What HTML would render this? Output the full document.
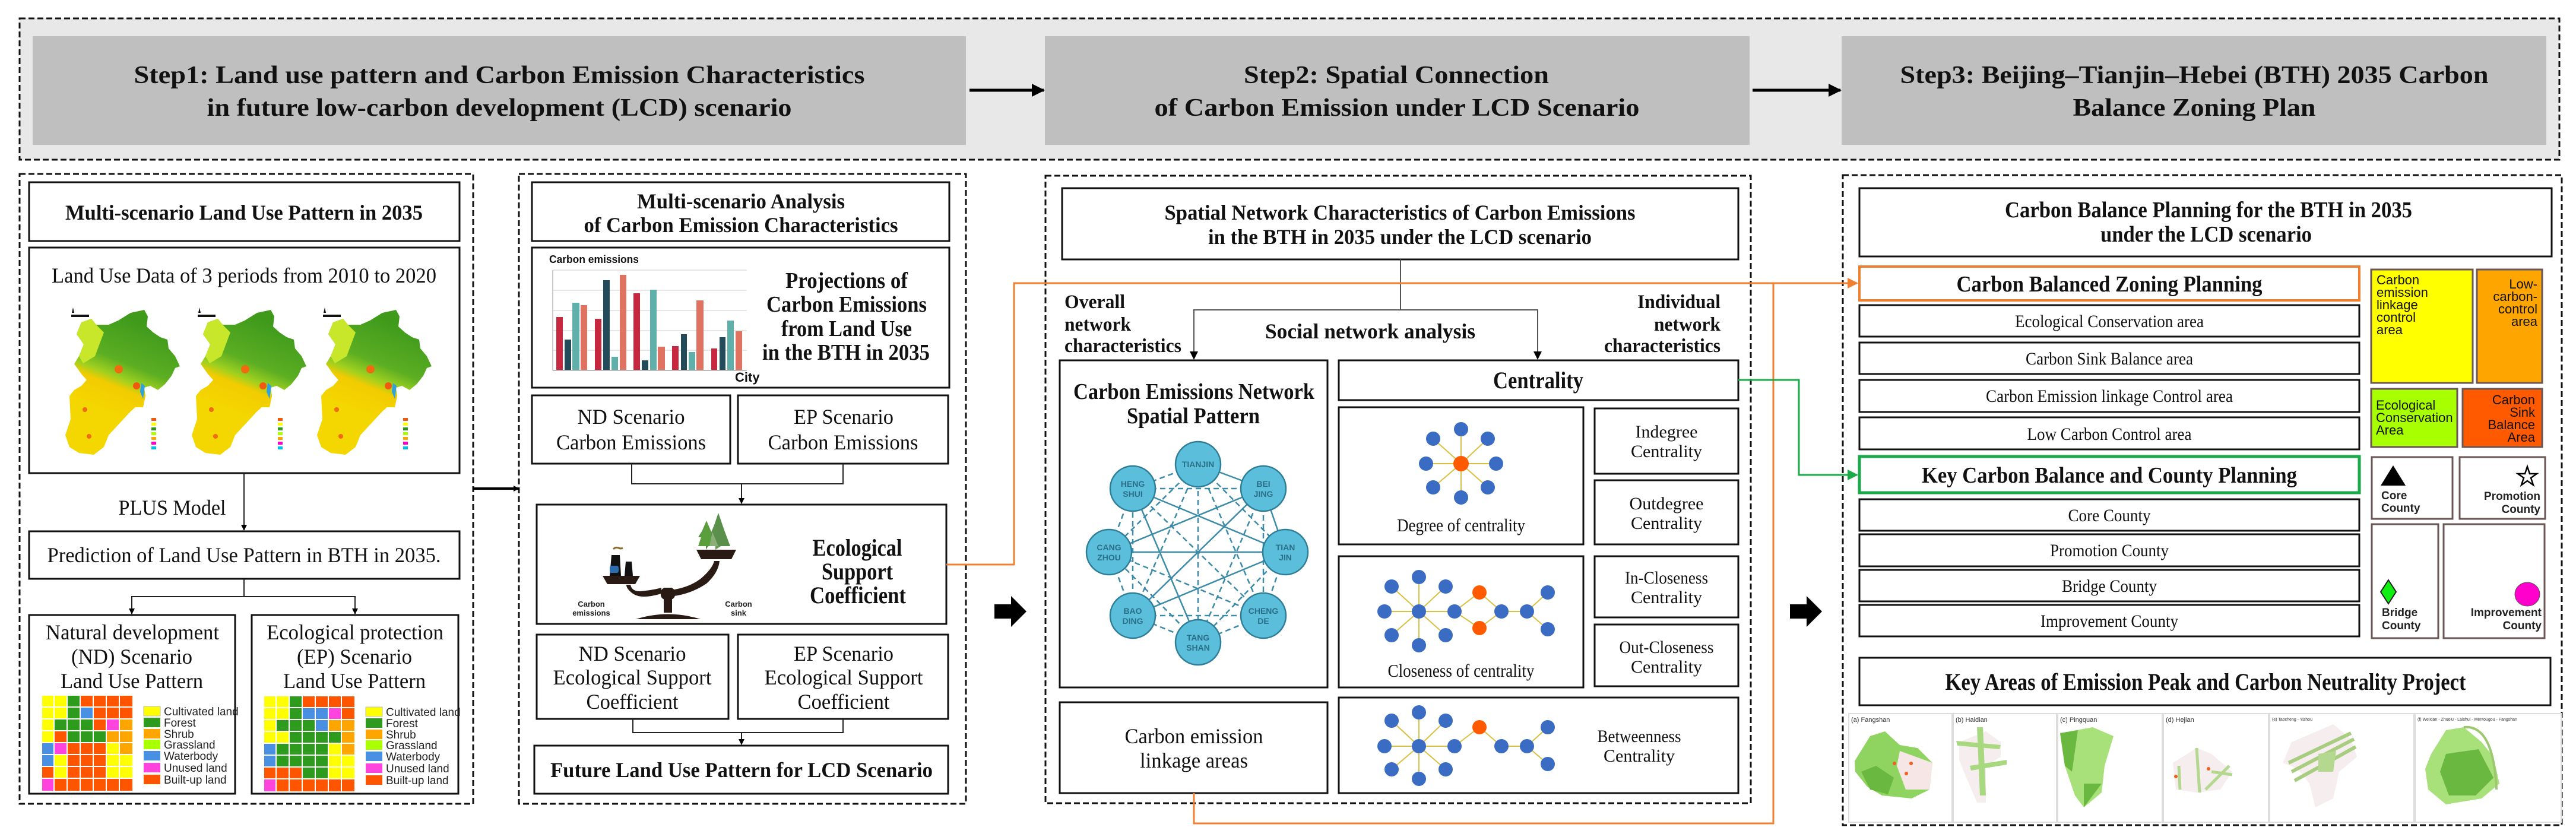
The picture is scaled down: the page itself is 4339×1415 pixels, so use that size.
<!DOCTYPE html>
<html><head><meta charset="utf-8">
<style>
html,body{margin:0;padding:0;background:#fff;}
svg{display:block;}
.t{font-family:"Liberation Serif",serif;fill:#111;}
.b{font-weight:bold;}
.s{font-family:"Liberation Sans",sans-serif;}
</style></head><body>
<svg width="4339" height="1415" viewBox="0 0 4339 1415" xmlns="http://www.w3.org/2000/svg">
<defs>
<marker id="ah" markerWidth="10" markerHeight="10" refX="9" refY="5" orient="auto" markerUnits="userSpaceOnUse"><path d="M0,0 L10,5 L0,10 Z" fill="#000"/></marker>
<marker id="ahb" markerWidth="22" markerHeight="22" refX="20" refY="11" orient="auto" markerUnits="userSpaceOnUse"><path d="M0,0 L22,11 L0,22 Z" fill="#000"/></marker>
<marker id="aho" markerWidth="18" markerHeight="18" refX="16" refY="9" orient="auto" markerUnits="userSpaceOnUse"><path d="M0,0 L18,9 L0,18 Z" fill="#f08030"/></marker>
<marker id="ahg" markerWidth="18" markerHeight="18" refX="16" refY="9" orient="auto" markerUnits="userSpaceOnUse"><path d="M0,0 L18,9 L0,18 Z" fill="#1aaa4a"/></marker>
<linearGradient id="mg" gradientUnits="userSpaceOnUse" x1="230" y1="540" x2="170" y2="690">
<stop offset="0" stop-color="#3f9a1c"/><stop offset="0.45" stop-color="#5cae22"/><stop offset="0.62" stop-color="#9fd020"/><stop offset="0.72" stop-color="#f2cc00"/><stop offset="1" stop-color="#f4d600"/></linearGradient>
<g id="map">
<path d="M243,522 L249,533 L247,550 L258,560 L270,568 L282,572 L284,587 L295,600 L303,617 L295,620 L289,633 L278,647 L266,657 L253,650 L243,653 L245,667 L241,686 L228,686 L220,693 L208,706 L195,720 L183,733 L175,753 L158,766 L133,763 L117,753 L110,733 L119,706 L117,667 L125,657 L137,650 L146,640 L137,630 L125,613 L133,600 L141,580 L129,563 L137,543 L154,537 L162,547 L183,547 L199,540 L220,527 Z" fill="url(#mg)"/>
<path d="M137,543 L154,537 L162,547 L175,560 L160,600 L140,612 L133,600 L141,580 L129,563 Z" fill="#c8e62a"/>
<circle cx="200" cy="622" r="7" fill="#f06a10"/><circle cx="230" cy="650" r="6" fill="#f05a10"/><circle cx="143" cy="690" r="4" fill="#f06a10"/><circle cx="150" cy="735" r="4" fill="#f06a10"/>
<path d="M238,645 L244,650 L241,672 L236,660 Z" fill="#30a0e0"/>
<rect x="255" y="704" width="8" height="5" fill="#f05a10"/><rect x="255" y="712" width="8" height="5" fill="#ffff00"/><rect x="255" y="720" width="8" height="5" fill="#2e9a1e"/><rect x="255" y="728" width="8" height="5" fill="#aaff00"/><rect x="255" y="736" width="8" height="5" fill="#ffa500"/><rect x="255" y="744" width="8" height="5" fill="#ff00cc"/><rect x="255" y="752" width="8" height="5" fill="#00c0f0"/>
<rect x="120" y="530" width="30" height="4" fill="#111"/><path d="M123,518 L125,527 L121,527 Z" fill="#111"/>
</g>
</defs>

<!-- TOP STEP BAR -->
<rect x="33" y="31" width="4278" height="238" fill="#e8e8e8" stroke="#111" stroke-width="3" stroke-dasharray="10,5"/>
<rect x="55" y="61" width="1572" height="183" fill="#bfbfbf"/>
<rect x="1760" y="61" width="1187" height="183" fill="#bfbfbf"/>
<rect x="3102" y="61" width="1187" height="183" fill="#bfbfbf"/>
<text class="t b" x="841" y="140" font-size="42" text-anchor="middle" textLength="1231" lengthAdjust="spacingAndGlyphs">Step1: Land use pattern and Carbon Emission Characteristics</text>
<text class="t b" x="841" y="195" font-size="42" text-anchor="middle" textLength="985" lengthAdjust="spacingAndGlyphs">in future low-carbon development (LCD) scenario</text>
<text class="t b" x="2352" y="140" font-size="42" text-anchor="middle" textLength="514" lengthAdjust="spacingAndGlyphs">Step2: Spatial Connection</text>
<text class="t b" x="2353" y="195" font-size="42" text-anchor="middle" textLength="817" lengthAdjust="spacingAndGlyphs">of Carbon Emission under LCD Scenario</text>
<text class="t b" x="3696" y="140" font-size="42" text-anchor="middle" textLength="991" lengthAdjust="spacingAndGlyphs">Step3: Beijing–Tianjin–Hebei (BTH) 2035 Carbon</text>
<text class="t b" x="3696" y="195" font-size="42" text-anchor="middle" textLength="409" lengthAdjust="spacingAndGlyphs">Balance Zoning Plan</text>
<line x1="1633" y1="152" x2="1758" y2="152" stroke="#000" stroke-width="5" marker-end="url(#ahb)"/>
<line x1="2952" y1="152" x2="3100" y2="152" stroke="#000" stroke-width="5" marker-end="url(#ahb)"/>

<!-- PANELS -->
<g fill="none" stroke="#111" stroke-width="3" stroke-dasharray="10,5">
<rect x="33" y="293" width="764" height="1061"/>
<rect x="874" y="293" width="753" height="1061"/>
<rect x="1761" y="296" width="1188" height="1057"/>
<rect x="3104" y="295" width="1211" height="1095"/>
</g>

<!-- PANEL 1 -->
<g fill="#fff" stroke="#111" stroke-width="3">
<rect x="49" y="307" width="725" height="99"/>
<rect x="49" y="417" width="725" height="380"/>
<rect x="49" y="895" width="725" height="80"/>
<rect x="49" y="1036" width="347" height="301"/>
<rect x="424" y="1036" width="348" height="301"/>
</g>
<text class="t b" x="411" y="370" font-size="36" text-anchor="middle" textLength="602" lengthAdjust="spacingAndGlyphs">Multi-scenario Land Use Pattern in 2035</text>
<text class="t" x="411" y="476" font-size="36" text-anchor="middle" textLength="648" lengthAdjust="spacingAndGlyphs">Land Use Data of 3 periods from 2010 to 2020</text>
<use href="#map"/>
<use href="#map" transform="translate(213,0)"/>
<use href="#map" transform="translate(424,0)"/>
<line x1="411" y1="797" x2="411" y2="893" stroke="#222" stroke-width="2" marker-end="url(#ah)"/>
<text class="t" x="290" y="867" font-size="36" text-anchor="middle" textLength="181" lengthAdjust="spacingAndGlyphs">PLUS Model</text>
<text class="t" x="411" y="947" font-size="36" text-anchor="middle" textLength="663" lengthAdjust="spacingAndGlyphs">Prediction of Land Use Pattern in BTH in 2035.</text>
<polyline points="411,975 411,1005 222,1005 222,1034" fill="none" stroke="#222" stroke-width="2" marker-end="url(#ah)"/>
<polyline points="411,1005 598,1005 598,1034" fill="none" stroke="#222" stroke-width="2" marker-end="url(#ah)"/>
<text class="t" x="223" y="1077" font-size="36" text-anchor="middle" textLength="292" lengthAdjust="spacingAndGlyphs">Natural development</text>
<text class="t" x="222" y="1118" font-size="36" text-anchor="middle" textLength="204" lengthAdjust="spacingAndGlyphs">(ND) Scenario</text>
<text class="t" x="222" y="1159" font-size="36" text-anchor="middle" textLength="240" lengthAdjust="spacingAndGlyphs">Land Use Pattern</text>
<text class="t" x="598" y="1077" font-size="36" text-anchor="middle" textLength="298" lengthAdjust="spacingAndGlyphs">Ecological protection</text>
<text class="t" x="597" y="1118" font-size="36" text-anchor="middle" textLength="194" lengthAdjust="spacingAndGlyphs">(EP) Scenario</text>
<text class="t" x="597" y="1159" font-size="36" text-anchor="middle" textLength="240" lengthAdjust="spacingAndGlyphs">Land Use Pattern</text>

<!-- ND grid -->
<g id="ndgrid">
<!-- row1 Y Y G R R R R -->
<rect x="71" y="1172" width="19" height="18" fill="#ffff00"/><rect x="92" y="1172" width="20" height="18" fill="#ffff00"/><rect x="114" y="1172" width="20" height="18" fill="#2e9a1e"/><rect x="136" y="1172" width="20" height="18" fill="#ff5500"/><rect x="158" y="1172" width="20" height="18" fill="#ff5500"/><rect x="180" y="1172" width="20" height="18" fill="#ff5500"/><rect x="202" y="1172" width="21" height="18" fill="#ff5500"/>
<rect x="71" y="1192" width="19" height="18" fill="#ffff00"/><rect x="92" y="1192" width="20" height="18" fill="#ffff00"/><rect x="114" y="1192" width="20" height="18" fill="#2e9a1e"/><rect x="136" y="1192" width="20" height="18" fill="#4a90e2"/><rect x="158" y="1192" width="20" height="18" fill="#ff5500"/><rect x="180" y="1192" width="20" height="18" fill="#ff5500"/><rect x="202" y="1192" width="21" height="18" fill="#ff5500"/>
<rect x="71" y="1212" width="19" height="18" fill="#ffff00"/><rect x="92" y="1212" width="20" height="18" fill="#2e9a1e"/><rect x="114" y="1212" width="20" height="18" fill="#2e9a1e"/><rect x="136" y="1212" width="20" height="18" fill="#2e9a1e"/><rect x="158" y="1212" width="20" height="18" fill="#ff5500"/><rect x="180" y="1212" width="20" height="18" fill="#ff44dd"/><rect x="202" y="1212" width="21" height="18" fill="#ffa500"/>
<rect x="71" y="1232" width="19" height="18" fill="#ffff00"/><rect x="92" y="1232" width="20" height="18" fill="#ff5500"/><rect x="114" y="1232" width="20" height="18" fill="#2e9a1e"/><rect x="136" y="1232" width="20" height="18" fill="#2e9a1e"/><rect x="158" y="1232" width="20" height="18" fill="#2e9a1e"/><rect x="180" y="1232" width="20" height="18" fill="#ffa500"/><rect x="202" y="1232" width="21" height="18" fill="#ffa500"/>
<rect x="71" y="1252" width="19" height="18" fill="#4a90e2"/><rect x="92" y="1252" width="20" height="18" fill="#ff44dd"/><rect x="114" y="1252" width="20" height="18" fill="#ff5500"/><rect x="136" y="1252" width="20" height="18" fill="#ff5500"/><rect x="158" y="1252" width="20" height="18" fill="#ff5500"/><rect x="180" y="1252" width="20" height="18" fill="#ffff00"/><rect x="202" y="1252" width="21" height="18" fill="#ffa500"/>
<rect x="71" y="1272" width="19" height="18" fill="#4a90e2"/><rect x="92" y="1272" width="20" height="18" fill="#ffff00"/><rect x="114" y="1272" width="20" height="18" fill="#ff5500"/><rect x="136" y="1272" width="20" height="18" fill="#ff5500"/><rect x="158" y="1272" width="20" height="18" fill="#ff5500"/><rect x="180" y="1272" width="20" height="18" fill="#ffff00"/><rect x="202" y="1272" width="21" height="18" fill="#ffff00"/>
<rect x="71" y="1292" width="19" height="18" fill="#ff5500"/><rect x="92" y="1292" width="20" height="18" fill="#ffff00"/><rect x="114" y="1292" width="20" height="18" fill="#ff5500"/><rect x="136" y="1292" width="20" height="18" fill="#ff5500"/><rect x="158" y="1292" width="20" height="18" fill="#ff5500"/><rect x="180" y="1292" width="20" height="18" fill="#ffff00"/><rect x="202" y="1292" width="21" height="18" fill="#ffff00"/>
<rect x="71" y="1312" width="19" height="20" fill="#ff44dd"/><rect x="92" y="1312" width="20" height="20" fill="#ff5500"/><rect x="114" y="1312" width="20" height="20" fill="#ff5500"/><rect x="136" y="1312" width="20" height="20" fill="#ff5500"/><rect x="158" y="1312" width="20" height="20" fill="#ff5500"/><rect x="180" y="1312" width="20" height="20" fill="#ff5500"/><rect x="202" y="1312" width="21" height="20" fill="#ff5500"/>
</g>
<!-- EP grid -->
<g transform="translate(374,1)">
<rect x="71" y="1172" width="19" height="18" fill="#ffff00"/><rect x="92" y="1172" width="20" height="18" fill="#ffff00"/><rect x="114" y="1172" width="20" height="18" fill="#2e9a1e"/><rect x="136" y="1172" width="20" height="18" fill="#ff5500"/><rect x="158" y="1172" width="20" height="18" fill="#ff5500"/><rect x="180" y="1172" width="20" height="18" fill="#ff5500"/><rect x="202" y="1172" width="21" height="18" fill="#ff5500"/>
<rect x="71" y="1192" width="19" height="18" fill="#ffff00"/><rect x="92" y="1192" width="20" height="18" fill="#ffff00"/><rect x="114" y="1192" width="20" height="18" fill="#2e9a1e"/><rect x="136" y="1192" width="20" height="18" fill="#4a90e2"/><rect x="158" y="1192" width="20" height="18" fill="#4a90e2"/><rect x="180" y="1192" width="20" height="18" fill="#ff44dd"/><rect x="202" y="1192" width="21" height="18" fill="#ff5500"/>
<rect x="71" y="1212" width="19" height="18" fill="#ffff00"/><rect x="92" y="1212" width="20" height="18" fill="#2e9a1e"/><rect x="114" y="1212" width="20" height="18" fill="#2e9a1e"/><rect x="136" y="1212" width="20" height="18" fill="#2e9a1e"/><rect x="158" y="1212" width="20" height="18" fill="#4a90e2"/><rect x="180" y="1212" width="20" height="18" fill="#ffa500"/><rect x="202" y="1212" width="21" height="18" fill="#ffa500"/>
<rect x="71" y="1232" width="19" height="18" fill="#ffff00"/><rect x="92" y="1232" width="20" height="18" fill="#ffff00"/><rect x="114" y="1232" width="20" height="18" fill="#2e9a1e"/><rect x="136" y="1232" width="20" height="18" fill="#2e9a1e"/><rect x="158" y="1232" width="20" height="18" fill="#2e9a1e"/><rect x="180" y="1232" width="20" height="18" fill="#2e9a1e"/><rect x="202" y="1232" width="21" height="18" fill="#ffa500"/>
<rect x="71" y="1252" width="19" height="18" fill="#4a90e2"/><rect x="92" y="1252" width="20" height="18" fill="#2e9a1e"/><rect x="114" y="1252" width="20" height="18" fill="#2e9a1e"/><rect x="136" y="1252" width="20" height="18" fill="#2e9a1e"/><rect x="158" y="1252" width="20" height="18" fill="#2e9a1e"/><rect x="180" y="1252" width="20" height="18" fill="#ffff00"/><rect x="202" y="1252" width="21" height="18" fill="#ffa500"/>
<rect x="71" y="1272" width="19" height="18" fill="#4a90e2"/><rect x="92" y="1272" width="20" height="18" fill="#2e9a1e"/><rect x="114" y="1272" width="20" height="18" fill="#2e9a1e"/><rect x="136" y="1272" width="20" height="18" fill="#2e9a1e"/><rect x="158" y="1272" width="20" height="18" fill="#2e9a1e"/><rect x="180" y="1272" width="20" height="18" fill="#ffff00"/><rect x="202" y="1272" width="21" height="18" fill="#ffff00"/>
<rect x="71" y="1292" width="19" height="18" fill="#ff5500"/><rect x="92" y="1292" width="20" height="18" fill="#ff5500"/><rect x="114" y="1292" width="20" height="18" fill="#ff5500"/><rect x="136" y="1292" width="20" height="18" fill="#2e9a1e"/><rect x="158" y="1292" width="20" height="18" fill="#2e9a1e"/><rect x="180" y="1292" width="20" height="18" fill="#ffff00"/><rect x="202" y="1292" width="21" height="18" fill="#ffff00"/>
<rect x="71" y="1312" width="19" height="20" fill="#ff44dd"/><rect x="92" y="1312" width="20" height="20" fill="#ff5500"/><rect x="114" y="1312" width="20" height="20" fill="#ff5500"/><rect x="136" y="1312" width="20" height="20" fill="#ff5500"/><rect x="158" y="1312" width="20" height="20" fill="#ff5500"/><rect x="180" y="1312" width="20" height="20" fill="#ff5500"/><rect x="202" y="1312" width="21" height="20" fill="#ff5500"/>
</g>
<!-- legends -->
<g id="leg1" font-family="Liberation Sans, sans-serif" font-size="19" fill="#222">
<rect x="242" y="1190" width="28" height="16" fill="#ffff00" stroke="#bbb"/><text x="276" y="1205">Cultivated land</text>
<rect x="242" y="1209" width="28" height="16" fill="#2e9a1e"/><text x="276" y="1224">Forest</text>
<rect x="242" y="1228" width="28" height="16" fill="#ffa500"/><text x="276" y="1243">Shrub</text>
<rect x="242" y="1246" width="28" height="16" fill="#aaff00"/><text x="276" y="1261">Grassland</text>
<rect x="242" y="1265" width="28" height="16" fill="#4a90e2"/><text x="276" y="1280">Waterbody</text>
<rect x="242" y="1285" width="28" height="16" fill="#ff44dd"/><text x="276" y="1300">Unused land</text>
<rect x="242" y="1305" width="28" height="16" fill="#ff5500"/><text x="276" y="1320">Built-up land</text>
</g>
<use href="#leg1" transform="translate(374,1)"/>

<!-- arrow panel1->panel2 -->
<line x1="797" y1="823" x2="874" y2="823" stroke="#000" stroke-width="4" marker-end="url(#ah)"/>

<!-- PANEL 2 -->
<g fill="#fff" stroke="#111" stroke-width="3">
<rect x="896" y="307" width="703" height="99"/>
<rect x="896" y="417" width="703" height="236"/>
<rect x="896" y="666" width="334" height="115"/>
<rect x="1243" y="666" width="354" height="115"/>
<rect x="904" y="850" width="690" height="201"/>
<rect x="904" y="1069" width="323" height="142"/>
<rect x="1243" y="1069" width="354" height="142"/>
<rect x="900" y="1256" width="697" height="81"/>
</g>
<text class="t b" x="1248" y="351" font-size="36" text-anchor="middle" textLength="350" lengthAdjust="spacingAndGlyphs">Multi-scenario Analysis</text>
<text class="t b" x="1248" y="391" font-size="36" text-anchor="middle" textLength="529" lengthAdjust="spacingAndGlyphs">of Carbon Emission Characteristics</text>
<!-- chart -->
<g stroke="#e6e6e6" stroke-width="2"><line x1="931" y1="455" x2="1258" y2="455"/><line x1="931" y1="489" x2="1258" y2="489"/><line x1="931" y1="523" x2="1258" y2="523"/><line x1="931" y1="557" x2="1258" y2="557"/><line x1="931" y1="590" x2="1258" y2="590"/></g>
<line x1="931" y1="455" x2="931" y2="624" stroke="#ccc" stroke-width="2"/>
<line x1="931" y1="624" x2="1258" y2="624" stroke="#bbb" stroke-width="2"/>
<g>
<rect x="937" y="534" width="11" height="89" fill="#c8283f"/><rect x="951" y="572" width="11" height="51" fill="#234b5a"/><rect x="964" y="510" width="12" height="113" fill="#5fb0aa"/><rect x="978" y="514" width="11" height="109" fill="#e07262"/>
<rect x="1002" y="537" width="11" height="86" fill="#c8283f"/><rect x="1016" y="472" width="11" height="151" fill="#234b5a"/><rect x="1030" y="601" width="11" height="22" fill="#5fb0aa"/><rect x="1044" y="463" width="11" height="160" fill="#e07262"/>
<rect x="1067" y="494" width="11" height="129" fill="#c8283f"/><rect x="1081" y="607" width="11" height="16" fill="#234b5a"/><rect x="1095" y="488" width="11" height="135" fill="#5fb0aa"/><rect x="1108" y="584" width="12" height="39" fill="#e07262"/>
<rect x="1132" y="583" width="11" height="40" fill="#c8283f"/><rect x="1147" y="563" width="10" height="60" fill="#234b5a"/><rect x="1160" y="593" width="11" height="30" fill="#5fb0aa"/><rect x="1173" y="506" width="12" height="117" fill="#e07262"/>
<rect x="1198" y="587" width="10" height="36" fill="#c8283f"/><rect x="1212" y="568" width="10" height="55" fill="#234b5a"/><rect x="1225" y="540" width="11" height="83" fill="#5fb0aa"/><rect x="1239" y="558" width="11" height="65" fill="#e07262"/>
</g>
<text class="s b" x="925" y="443" font-size="18" font-weight="bold" fill="#111" textLength="151" lengthAdjust="spacingAndGlyphs">Carbon emissions</text>
<text class="s b" x="1238" y="643" font-size="22" font-weight="bold" fill="#111">City</text>
<text class="t b" x="1426" y="485" font-size="38" text-anchor="middle" textLength="206" lengthAdjust="spacingAndGlyphs">Projections of</text>
<text class="t b" x="1426" y="525" font-size="38" text-anchor="middle" textLength="270" lengthAdjust="spacingAndGlyphs">Carbon Emissions</text>
<text class="t b" x="1426" y="566" font-size="38" text-anchor="middle" textLength="220" lengthAdjust="spacingAndGlyphs">from Land Use</text>
<text class="t b" x="1425" y="606" font-size="38" text-anchor="middle" textLength="282" lengthAdjust="spacingAndGlyphs">in the BTH in 2035</text>
<text class="t" x="1063" y="714" font-size="36" text-anchor="middle" textLength="181" lengthAdjust="spacingAndGlyphs">ND Scenario</text>
<text class="t" x="1063" y="757" font-size="36" text-anchor="middle" textLength="252" lengthAdjust="spacingAndGlyphs">Carbon Emissions</text>
<text class="t" x="1421" y="714" font-size="36" text-anchor="middle" textLength="168" lengthAdjust="spacingAndGlyphs">EP Scenario</text>
<text class="t" x="1420" y="757" font-size="36" text-anchor="middle" textLength="253" lengthAdjust="spacingAndGlyphs">Carbon Emissions</text>
<polyline points="1064,781 1064,815 1420,815 1420,781" fill="none" stroke="#222" stroke-width="2"/>
<line x1="1249" y1="815" x2="1249" y2="848" stroke="#222" stroke-width="2" marker-end="url(#ah)"/>
<!-- balance icon -->
<g fill="#2a1a14">
<path d="M1071,1043 Q1125,1026 1180,1043 Z"/>
<rect x="1118" y="990" width="14" height="42"/>
<rect x="1113" y="990" width="24" height="20" rx="8"/>
<path d="M1114,1000 Q1080,1010 1066,1000 Q1055,992 1055,985 L1062,985 Q1064,996 1078,996 Q1100,994 1114,990 Z"/>
<path d="M1130,994 Q1160,990 1180,975 Q1200,958 1203,945 L1212,945 Q1210,965 1190,983 Q1165,1000 1135,1004 Z"/>
<path d="M1015,970 L1078,970 L1070,984 L1023,984 Z"/>
<path d="M1173,926 L1240,926 L1232,942 L1181,942 Z"/>
<path d="M1027,970 L1030,935 L1044,935 L1046,970 Z" fill="#111"/>
<path d="M1052,970 L1054,946 L1064,946 L1066,970 Z" fill="#111"/>
</g>
<rect x="1027" y="953" width="15" height="12" rx="3" fill="#2b6cb0"/>
<path d="M1033,925 q4,-4 9,-2 q3,2 7,0" stroke="#8a6a2a" stroke-width="3" fill="none"/>
<g>
<path d="M1189,926 L1189,884 L1176,905 L1202,905 Z" fill="#4e8a3a"/>
<path d="M1178,905 L1190,877 L1202,905 Z" fill="#5a9a44"/>
<path d="M1205,926 L1205,880 L1190,915 L1222,915 Z" fill="#6a9a5a"/>
<path d="M1196,905 L1210,864 L1224,905 Z" fill="#5a8f4c"/>
<path d="M1200,920 L1212,872 L1230,920 Z" fill="#5a8f4c"/>
<path d="M1176,920 L1190,878 L1203,920 Z" fill="#5b9e3c"/>
<path d="M1195,920 L1200,896 L1210,920 Z" fill="#8ab078"/>
</g>
<text class="s" x="996" y="1022" font-size="13" font-weight="bold" text-anchor="middle" fill="#222">Carbon</text>
<text class="s" x="996" y="1037" font-size="13" font-weight="bold" text-anchor="middle" fill="#222">emissions</text>
<text class="s" x="1244" y="1022" font-size="13" font-weight="bold" text-anchor="middle" fill="#222">Carbon</text>
<text class="s" x="1244" y="1037" font-size="13" font-weight="bold" text-anchor="middle" fill="#222">sink</text>
<text class="t b" x="1444" y="936" font-size="40" text-anchor="middle" textLength="151" lengthAdjust="spacingAndGlyphs">Ecological</text>
<text class="t b" x="1444" y="976" font-size="40" text-anchor="middle" textLength="120" lengthAdjust="spacingAndGlyphs">Support</text>
<text class="t b" x="1445" y="1016" font-size="40" text-anchor="middle" textLength="162" lengthAdjust="spacingAndGlyphs">Coefficient</text>
<text class="t" x="1065" y="1113" font-size="36" text-anchor="middle" textLength="181" lengthAdjust="spacingAndGlyphs">ND Scenario</text>
<text class="t" x="1065" y="1153" font-size="36" text-anchor="middle" textLength="267" lengthAdjust="spacingAndGlyphs">Ecological Support</text>
<text class="t" x="1065" y="1194" font-size="36" text-anchor="middle" textLength="155" lengthAdjust="spacingAndGlyphs">Coefficient</text>
<text class="t" x="1421" y="1113" font-size="36" text-anchor="middle" textLength="168" lengthAdjust="spacingAndGlyphs">EP Scenario</text>
<text class="t" x="1421" y="1153" font-size="36" text-anchor="middle" textLength="267" lengthAdjust="spacingAndGlyphs">Ecological Support</text>
<text class="t" x="1421" y="1194" font-size="36" text-anchor="middle" textLength="155" lengthAdjust="spacingAndGlyphs">Coefficient</text>
<polyline points="1066,1211 1066,1234 1420,1234 1420,1211" fill="none" stroke="#222" stroke-width="2"/>
<line x1="1249" y1="1234" x2="1249" y2="1254" stroke="#222" stroke-width="2" marker-end="url(#ah)"/>
<text class="t b" x="1249" y="1309" font-size="36" text-anchor="middle" textLength="644" lengthAdjust="spacingAndGlyphs">Future Land Use Pattern for LCD Scenario</text>

<!-- block arrows -->
<path d="M1675,1018 L1703,1018 L1703,1004 L1729,1030 L1703,1056 L1703,1042 L1675,1042 Z" fill="#000"/>
<path d="M3015,1018 L3043,1018 L3043,1004 L3069,1030 L3043,1056 L3043,1042 L3015,1042 Z" fill="#000"/>

<!-- PANEL 3 -->
<g fill="#fff" stroke="#111" stroke-width="3">
<rect x="1789" y="317" width="1139" height="120"/>
<rect x="1785" y="607" width="451" height="551"/>
<rect x="1785" y="1183" width="451" height="153"/>
<rect x="2255" y="607" width="673" height="67"/>
<rect x="2255" y="686" width="412" height="231"/>
<rect x="2686" y="688" width="242" height="110"/>
<rect x="2686" y="809" width="242" height="108"/>
<rect x="2255" y="937" width="412" height="221"/>
<rect x="2686" y="937" width="242" height="103"/>
<rect x="2686" y="1052" width="242" height="104"/>
<rect x="2255" y="1175" width="673" height="161"/>
</g>
<text class="t b" x="2358" y="370" font-size="36" text-anchor="middle" textLength="793" lengthAdjust="spacingAndGlyphs">Spatial Network Characteristics of Carbon Emissions</text>
<text class="t b" x="2358" y="411" font-size="36" text-anchor="middle" textLength="646" lengthAdjust="spacingAndGlyphs">in the BTH in 2035 under the LCD scenario</text>
<line x1="2359" y1="437" x2="2359" y2="522" stroke="#555" stroke-width="2"/>
<polyline points="2011,603 2011,522 2590,522 2590,603" fill="none" stroke="#555" stroke-width="2"/>
<path d="M2004,592 L2018,592 L2011,606 Z" fill="#000"/><path d="M2583,592 L2597,592 L2590,606 Z" fill="#000"/>
<text class="t b" x="2308" y="570" font-size="36" text-anchor="middle" textLength="354" lengthAdjust="spacingAndGlyphs">Social network  analysis</text>
<text class="t b" x="1793" y="519" font-size="33" textLength="102" lengthAdjust="spacingAndGlyphs">Overall</text>
<text class="t b" x="1793" y="557" font-size="33" textLength="112" lengthAdjust="spacingAndGlyphs">network</text>
<text class="t b" x="1793" y="593" font-size="33" textLength="197" lengthAdjust="spacingAndGlyphs">characteristics</text>
<text class="t b" x="2898" y="519" font-size="33" text-anchor="end" textLength="140" lengthAdjust="spacingAndGlyphs">Individual</text>
<text class="t b" x="2898" y="557" font-size="33" text-anchor="end" textLength="112" lengthAdjust="spacingAndGlyphs">network</text>
<text class="t b" x="2898" y="593" font-size="33" text-anchor="end" textLength="196" lengthAdjust="spacingAndGlyphs">characteristics</text>
<text class="t b" x="2011" y="672" font-size="38" text-anchor="middle" textLength="406" lengthAdjust="spacingAndGlyphs">Carbon Emissions Network</text>
<text class="t b" x="2010" y="713" font-size="38" text-anchor="middle" textLength="224" lengthAdjust="spacingAndGlyphs">Spatial Pattern</text>
<!-- network -->
<g stroke="#3a8aa8" stroke-width="2.5" fill="none">
<line x1="1908" y1="823" x2="2165" y2="930"/>
<line x1="1868" y1="930" x2="2128" y2="823"/>
<line x1="1868" y1="930" x2="2165" y2="930"/>
<line x1="1908" y1="823" x2="2018" y2="1082"/>
<line x1="1908" y1="1037" x2="2128" y2="823"/>
<line x1="1908" y1="1037" x2="2165" y2="930"/>
<line x1="2018" y1="782" x2="2128" y2="823"/>
<line x1="2128" y1="823" x2="2165" y2="930"/>
</g>
<g stroke="#3a8aa8" stroke-width="2.5" fill="none" stroke-dasharray="9,6">
<line x1="2018" y1="782" x2="1908" y2="823"/><line x1="2018" y1="782" x2="1868" y2="930"/><line x1="2018" y1="782" x2="1908" y2="1037"/><line x1="2018" y1="782" x2="2018" y2="1082"/><line x1="2018" y1="782" x2="2128" y2="1037"/><line x1="2018" y1="782" x2="2165" y2="930"/>
<line x1="2128" y1="823" x2="2128" y2="1037"/><line x1="2128" y1="823" x2="2018" y2="1082"/><line x1="2128" y1="823" x2="1908" y2="823"/>
<line x1="2165" y1="930" x2="2128" y2="1037"/><line x1="2165" y1="930" x2="2018" y2="1082"/>
<line x1="2128" y1="1037" x2="2018" y2="1082"/><line x1="2128" y1="1037" x2="1908" y2="1037"/><line x1="2128" y1="1037" x2="1868" y2="930"/><line x1="2128" y1="1037" x2="1908" y2="823"/>
<line x1="2018" y1="1082" x2="1908" y2="1037"/><line x1="2018" y1="1082" x2="1868" y2="930"/>
<line x1="1908" y1="1037" x2="1868" y2="930"/><line x1="1908" y1="1037" x2="1908" y2="823"/>
<line x1="1868" y1="930" x2="1908" y2="823"/>
</g>
<g fill="#5bbfdc" stroke="#2e7d96" stroke-width="2.5">
<circle cx="2018" cy="782" r="38"/><circle cx="2128" cy="823" r="38"/><circle cx="2165" cy="930" r="38"/><circle cx="2128" cy="1037" r="38"/><circle cx="2018" cy="1082" r="38"/><circle cx="1908" cy="1037" r="38"/><circle cx="1868" cy="930" r="38"/><circle cx="1908" cy="823" r="38"/>
</g>
<g font-family="Liberation Sans, sans-serif" font-size="14" font-weight="bold" fill="#2a6f87" text-anchor="middle">
<text x="2018" y="787">TIANJIN</text>
<text x="2128" y="820">BEI</text><text x="2128" y="837">JING</text>
<text x="2165" y="927">TIAN</text><text x="2165" y="944">JIN</text>
<text x="2128" y="1034">CHENG</text><text x="2128" y="1051">DE</text>
<text x="2018" y="1079">TANG</text><text x="2018" y="1096">SHAN</text>
<text x="1908" y="1034">BAO</text><text x="1908" y="1051">DING</text>
<text x="1868" y="927">CANG</text><text x="1868" y="944">ZHOU</text>
<text x="1908" y="820">HENG</text><text x="1908" y="837">SHUI</text>
</g>
<text class="t" x="2011" y="1252" font-size="36" text-anchor="middle" textLength="233" lengthAdjust="spacingAndGlyphs">Carbon emission</text>
<text class="t" x="2011" y="1293" font-size="36" text-anchor="middle" textLength="182" lengthAdjust="spacingAndGlyphs">linkage areas</text>
<text class="t b" x="2591" y="654" font-size="40" text-anchor="middle" textLength="152" lengthAdjust="spacingAndGlyphs">Centrality</text>
<!-- degree graph -->
<g stroke="#d8c040" stroke-width="2">
<line x1="2461" y1="781" x2="2461" y2="723"/><line x1="2461" y1="781" x2="2506" y2="739"/><line x1="2461" y1="781" x2="2520" y2="781"/><line x1="2461" y1="781" x2="2506" y2="821"/><line x1="2461" y1="781" x2="2461" y2="838"/><line x1="2461" y1="781" x2="2414" y2="821"/><line x1="2461" y1="781" x2="2402" y2="781"/><line x1="2461" y1="781" x2="2414" y2="739"/>
</g>
<g fill="#3b6cc4"><circle cx="2461" cy="723" r="12"/><circle cx="2506" cy="739" r="12"/><circle cx="2520" cy="781" r="12"/><circle cx="2506" cy="821" r="12"/><circle cx="2461" cy="838" r="12"/><circle cx="2414" cy="821" r="12"/><circle cx="2402" cy="781" r="12"/><circle cx="2414" cy="739" r="12"/></g>
<circle cx="2461" cy="781" r="13" fill="#ff5a00"/>
<text class="t" x="2461" y="895" font-size="31" text-anchor="middle" textLength="216" lengthAdjust="spacingAndGlyphs">Degree of centrality</text>
<text class="t" x="2807" y="737" font-size="30" text-anchor="middle">Indegree</text>
<text class="t" x="2807" y="770" font-size="30" text-anchor="middle">Centrality</text>
<text class="t" x="2807" y="858" font-size="30" text-anchor="middle">Outdegree</text>
<text class="t" x="2807" y="891" font-size="30" text-anchor="middle">Centrality</text>
<!-- closeness graph -->
<g id="cg">
<g stroke="#d8c040" stroke-width="2">
<line x1="2390" y1="1030" x2="2390" y2="972"/><line x1="2390" y1="1030" x2="2435" y2="988"/><line x1="2390" y1="1030" x2="2450" y2="1030"/><line x1="2390" y1="1030" x2="2435" y2="1070"/><line x1="2390" y1="1030" x2="2390" y2="1087"/><line x1="2390" y1="1030" x2="2344" y2="1070"/><line x1="2390" y1="1030" x2="2332" y2="1030"/><line x1="2390" y1="1030" x2="2344" y2="988"/>
<line x1="2450" y1="1030" x2="2492" y2="998"/><line x1="2450" y1="1030" x2="2492" y2="1058"/><line x1="2492" y1="998" x2="2529" y2="1030"/><line x1="2492" y1="1058" x2="2529" y2="1030"/><line x1="2529" y1="1030" x2="2572" y2="1030"/><line x1="2572" y1="1030" x2="2607" y2="998"/><line x1="2572" y1="1030" x2="2607" y2="1060"/>
</g>
<g fill="#3b6cc4"><circle cx="2390" cy="972" r="12"/><circle cx="2435" cy="988" r="12"/><circle cx="2450" cy="1030" r="12"/><circle cx="2435" cy="1070" r="12"/><circle cx="2390" cy="1087" r="12"/><circle cx="2344" cy="1070" r="12"/><circle cx="2332" cy="1030" r="12"/><circle cx="2344" cy="988" r="12"/><circle cx="2390" cy="1030" r="12"/><circle cx="2529" cy="1030" r="12"/><circle cx="2572" cy="1030" r="12"/><circle cx="2607" cy="998" r="12"/><circle cx="2607" cy="1060" r="12"/></g>
<circle cx="2492" cy="998" r="12" fill="#ff5a00"/><circle cx="2492" cy="1058" r="12" fill="#ff5a00"/>
</g>
<text class="t" x="2461" y="1140" font-size="31" text-anchor="middle" textLength="247" lengthAdjust="spacingAndGlyphs">Closeness of centrality</text>
<text class="t" x="2807" y="983" font-size="30" text-anchor="middle" textLength="140" lengthAdjust="spacingAndGlyphs">In-Closeness</text>
<text class="t" x="2807" y="1016" font-size="30" text-anchor="middle">Centrality</text>
<text class="t" x="2807" y="1100" font-size="30" text-anchor="middle" textLength="159" lengthAdjust="spacingAndGlyphs">Out-Closeness</text>
<text class="t" x="2807" y="1133" font-size="30" text-anchor="middle">Centrality</text>
<!-- betweenness graph -->
<g stroke="#d8c040" stroke-width="2">
<line x1="2390" y1="1257" x2="2390" y2="1200"/><line x1="2390" y1="1257" x2="2435" y2="1214"/><line x1="2390" y1="1257" x2="2450" y2="1257"/><line x1="2390" y1="1257" x2="2435" y2="1296"/><line x1="2390" y1="1257" x2="2390" y2="1312"/><line x1="2390" y1="1257" x2="2344" y2="1296"/><line x1="2390" y1="1257" x2="2332" y2="1257"/><line x1="2390" y1="1257" x2="2344" y2="1214"/>
<line x1="2450" y1="1257" x2="2492" y2="1225"/><line x1="2492" y1="1225" x2="2529" y2="1257"/><line x1="2529" y1="1257" x2="2572" y2="1257"/><line x1="2572" y1="1257" x2="2607" y2="1225"/><line x1="2572" y1="1257" x2="2607" y2="1287"/>
</g>
<g fill="#3b6cc4"><circle cx="2390" cy="1200" r="12"/><circle cx="2435" cy="1214" r="12"/><circle cx="2450" cy="1257" r="12"/><circle cx="2435" cy="1296" r="12"/><circle cx="2390" cy="1312" r="12"/><circle cx="2344" cy="1296" r="12"/><circle cx="2332" cy="1257" r="12"/><circle cx="2344" cy="1214" r="12"/><circle cx="2390" cy="1257" r="12"/><circle cx="2529" cy="1257" r="12"/><circle cx="2572" cy="1257" r="12"/><circle cx="2607" cy="1225" r="12"/><circle cx="2607" cy="1287" r="12"/></g>
<circle cx="2492" cy="1225" r="12" fill="#ff5a00"/>
<text class="t" x="2761" y="1250" font-size="30" text-anchor="middle" textLength="141" lengthAdjust="spacingAndGlyphs">Betweenness</text>
<text class="t" x="2761" y="1283" font-size="30" text-anchor="middle">Centrality</text>

<!-- orange & green connectors -->
<polyline points="1594,951 1708,951 1708,477 3128,477" fill="none" stroke="#f08030" stroke-width="3" marker-end="url(#aho)"/>
<polyline points="2011,1336 2011,1387 2987,1387 2987,477" fill="none" stroke="#f08030" stroke-width="3"/>
<polyline points="2928,640 3030,640 3030,800 3128,800" fill="none" stroke="#1aaa4a" stroke-width="3" marker-end="url(#ahg)"/>

<!-- PANEL 4 -->
<g fill="#fff" stroke="#111" stroke-width="3">
<rect x="3132" y="317" width="1166" height="115"/>
<rect x="3132" y="514" width="842" height="53"/>
<rect x="3132" y="577" width="842" height="53"/>
<rect x="3132" y="640" width="842" height="54"/>
<rect x="3132" y="703" width="842" height="54"/>
<rect x="3132" y="841" width="842" height="53"/>
<rect x="3132" y="900" width="842" height="54"/>
<rect x="3132" y="960" width="842" height="53"/>
<rect x="3132" y="1019" width="842" height="53"/>
<rect x="3132" y="1108" width="1164" height="80"/>
</g>
<rect x="3132" y="449" width="842" height="57" fill="#fff" stroke="#f08030" stroke-width="4"/>
<rect x="3132" y="769" width="842" height="61" fill="#fff" stroke="#1aaa4a" stroke-width="5"/>
<text class="t b" x="3720" y="366" font-size="38" text-anchor="middle" textLength="686" lengthAdjust="spacingAndGlyphs">Carbon Balance Planning for the BTH in 2035</text>
<text class="t b" x="3716" y="407" font-size="38" text-anchor="middle" textLength="356" lengthAdjust="spacingAndGlyphs">under the LCD scenario</text>
<text class="t b" x="3553" y="491" font-size="38" text-anchor="middle" textLength="515" lengthAdjust="spacingAndGlyphs">Carbon Balanced Zoning Planning</text>
<text class="t" x="3553" y="551" font-size="30" text-anchor="middle" textLength="318" lengthAdjust="spacingAndGlyphs">Ecological Conservation area</text>
<text class="t" x="3553" y="614" font-size="30" text-anchor="middle" textLength="282" lengthAdjust="spacingAndGlyphs">Carbon Sink Balance area</text>
<text class="t" x="3553" y="677" font-size="30" text-anchor="middle" textLength="416" lengthAdjust="spacingAndGlyphs">Carbon Emission linkage Control area</text>
<text class="t" x="3553" y="741" font-size="30" text-anchor="middle" textLength="277" lengthAdjust="spacingAndGlyphs">Low Carbon Control area</text>
<text class="t b" x="3553" y="813" font-size="38" text-anchor="middle" textLength="632" lengthAdjust="spacingAndGlyphs">Key Carbon Balance and County Planning</text>
<text class="t" x="3553" y="878" font-size="30" text-anchor="middle" textLength="139" lengthAdjust="spacingAndGlyphs">Core County</text>
<text class="t" x="3553" y="937" font-size="30" text-anchor="middle" textLength="200" lengthAdjust="spacingAndGlyphs">Promotion County</text>
<text class="t" x="3553" y="997" font-size="30" text-anchor="middle" textLength="160" lengthAdjust="spacingAndGlyphs">Bridge County</text>
<text class="t" x="3553" y="1056" font-size="30" text-anchor="middle" textLength="232" lengthAdjust="spacingAndGlyphs">Improvement County</text>
<text class="t b" x="3715" y="1162" font-size="40" text-anchor="middle" textLength="877" lengthAdjust="spacingAndGlyphs">Key Areas of Emission Peak and Carbon Neutrality Project</text>
<!-- colour legend -->
<g stroke="#6b5555" stroke-width="3">
<rect x="3994" y="454" width="171" height="191" fill="#ffff00"/>
<rect x="4172" y="454" width="110" height="191" fill="#ffa500"/>
<rect x="3994" y="655" width="145" height="98" fill="#a8ff00"/>
<rect x="4148" y="655" width="134" height="98" fill="#ff5a00"/>
<rect x="3995" y="770" width="136" height="104" fill="#fff"/>
<rect x="4143" y="770" width="144" height="104" fill="#fff"/>
<rect x="3995" y="883" width="112" height="192" fill="#fff"/>
<rect x="4116" y="883" width="170" height="192" fill="#fff"/>
</g>
<g font-family="Liberation Sans, sans-serif" font-size="22" fill="#111">
<text x="4003" y="479">Carbon</text><text x="4003" y="500">emission</text><text x="4003" y="521">linkage</text><text x="4003" y="542">control</text><text x="4003" y="563">area</text>
<g text-anchor="end"><text x="4274" y="486">Low-</text><text x="4274" y="507">carbon-</text><text x="4274" y="528">control</text><text x="4274" y="549">area</text></g>
<text x="4002" y="690">Ecological</text><text x="4002" y="711">Conservation</text><text x="4002" y="732">Area</text>
<g text-anchor="end"><text x="4270" y="681">Carbon</text><text x="4270" y="702">Sink</text><text x="4270" y="723">Balance</text><text x="4270" y="744">Area</text></g>
</g>
<path d="M4031,784 L4052,818 L4010,818 Z" fill="#000"/>
<path d="M4257,786 L4261,798 L4273,798 L4263,805 L4267,817 L4257,810 L4247,817 L4251,805 L4241,798 L4253,798 Z" fill="#fff" stroke="#000" stroke-width="2.5"/>
<path d="M4023,977 L4036,997 L4023,1017 L4010,997 Z" fill="#11ee11" stroke="#222" stroke-width="2"/>
<ellipse cx="4257" cy="1001" rx="21" ry="20" fill="#ff00cc" stroke="#555" stroke-width="1"/>
<g font-family="Liberation Sans, sans-serif" font-size="19" font-weight="bold" fill="#222">
<text x="4011" y="841">Core</text><text x="4011" y="862">County</text>
<g text-anchor="end"><text x="4279" y="842">Promotion</text><text x="4279" y="864">County</text></g>
<text x="4012" y="1038">Bridge</text><text x="4012" y="1060">County</text>
<g text-anchor="end"><text x="4281" y="1038">Improvement</text><text x="4281" y="1060">County</text></g>
</g>
<!-- map thumbnails -->
<g fill="#fff" stroke="#ddd" stroke-width="2">
<rect x="3114" y="1202" width="174" height="183"/><rect x="3290" y="1202" width="174" height="183"/><rect x="3466" y="1202" width="176" height="183"/><rect x="3644" y="1202" width="177" height="183"/><rect x="3823" y="1202" width="243" height="183"/><rect x="4068" y="1202" width="246" height="183"/>
</g>
<g font-family="Liberation Sans, sans-serif" font-size="11" fill="#333">
<text x="3118" y="1216">(a) Fangshan</text><text x="3294" y="1216">(b) Haidian</text><text x="3470" y="1216">(c) Pingquan</text><text x="3648" y="1216">(d) Hejian</text><text x="3827" y="1214" font-size="7">(e) Taocheng - Yizhou</text><text x="4072" y="1214" font-size="7">(f) Weixian - Zhuolu - Laishui - Mentougou - Fangshan</text>
</g>
<path d="M3124,1282 L3150,1240 L3175,1232 L3200,1255 L3230,1260 L3255,1285 L3250,1330 L3220,1345 L3170,1340 L3145,1325 L3125,1300 Z" fill="#8fd460"/>
<path d="M3135,1300 L3160,1290 L3190,1310 L3180,1338 L3150,1330 Z" fill="#6ab840"/>
<path d="M3200,1265 L3255,1285 L3250,1330 L3210,1330 L3195,1290 Z" fill="#f6e6e6"/>
<circle cx="3191" cy="1286" r="3" fill="#f06020"/><circle cx="3219" cy="1286" r="3" fill="#f06020"/><circle cx="3211" cy="1303" r="3" fill="#f06020"/>
<path d="M3300,1250 L3345,1232 L3370,1250 L3370,1275 L3345,1290 L3345,1352 L3330,1352 L3310,1305 L3300,1280 Z" fill="#f6eeee"/>
<path d="M3295,1248 L3370,1255 L3368,1262 L3297,1256 Z M3318,1290 L3380,1280 L3380,1288 L3320,1298 Z M3330,1225 L3340,1225 L3345,1340 L3335,1340 Z" fill="#a8d880"/>
<path d="M3470,1235 L3525,1225 L3560,1240 L3545,1290 L3540,1335 L3510,1360 L3495,1340 L3478,1290 Z" fill="#a8e07a"/>
<path d="M3470,1235 L3500,1230 L3490,1300 L3478,1290 Z M3510,1320 L3540,1320 L3510,1360 Z" fill="#6ab840"/>
<path d="M3660,1285 L3700,1260 L3725,1270 L3760,1300 L3740,1330 L3700,1335 L3665,1330 Z" fill="#f6eeee"/>
<path d="M3700,1260 L3705,1335 M3725,1300 L3760,1305 M3715,1330 L3755,1290 M3670,1290 L3672,1330" stroke="#b5d890" stroke-width="5" fill="none"/>
<circle cx="3720" cy="1295" r="3" fill="#f06020"/><circle cx="3665" cy="1308" r="3" fill="#f06020"/>
<path d="M3860,1250 L3930,1220 L3960,1245 L3970,1275 L3940,1300 L3930,1345 L3900,1360 L3890,1320 L3870,1295 L3845,1285 Z" fill="#f6eeee"/>
<path d="M3855,1285 L3960,1235 M3860,1300 L3965,1245 M3865,1315 L3968,1258" stroke="#a8cc80" stroke-width="6" fill="none"/>
<path d="M3905,1270 L3935,1265 L3930,1300 L3905,1300 Z" fill="#b5d890"/>
<path d="M4095,1270 L4120,1230 L4150,1225 L4180,1250 L4200,1275 L4210,1320 L4180,1345 L4120,1355 L4090,1330 L4085,1295 Z" fill="#a8e07a"/>
<path d="M4120,1270 L4175,1262 L4200,1310 L4170,1340 L4125,1340 L4110,1300 Z" fill="#6ab840"/>
<path d="M4150,1225 Q4200,1220 4205,1330" stroke="#9ec870" stroke-width="4" fill="none"/>
</svg>
</body></html>
